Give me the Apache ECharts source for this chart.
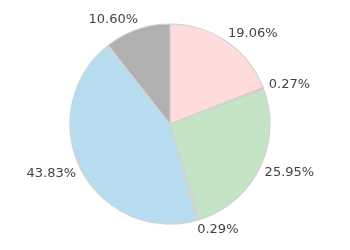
<!DOCTYPE html>
<html>
<head>
<meta charset="utf-8">
<script src="https://cdn.jsdelivr.net/npm/echarts@6/dist/echarts.min.js"></script>
<style>html,body{margin:0;padding:0;background:#fff;}#c{width:350px;height:250px;}</style>
</head>
<body>
<div id="c"></div>
<script>
var categories = ['A', 'B', 'C', 'D', 'E', 'F'];
var values = [19.06, 0.27, 25.95, 0.29, 43.83, 10.60];
var colors = ['#ffdcdc', '#f0a0a0', '#c5e3c5', '#f2d2a8', '#b9ddf0', '#b0b0b0'];

var chart = echarts.init(document.getElementById('c'), null, {renderer: 'canvas'});
chart.setOption({
  animation: false,
  series: [{
    type: 'pie',
    center: [170, 124],
    radius: 100,
    startAngle: 90,
    clockwise: true,
    avoidLabelOverlap: false,
    data: categories.map(function (c, i) {
      return {name: c, value: values[i], itemStyle: {color: colors[i]}};
    }),
    itemStyle: {borderColor: '#d2d2d2', borderWidth: 1.2},
    label: {
      show: true,
      position: 'outside',
      formatter: function (p) { return p.value.toFixed(2) + '%'; },
      fontFamily: 'DejaVu Sans',
      fontSize: 13,
      color: '#444',
      distanceToLabelLine: -4
    },
    labelLine: {show: false, length: 10, length2: 0},
    emphasis: {disabled: true}
  }]
});
</script>
</body>
</html>
